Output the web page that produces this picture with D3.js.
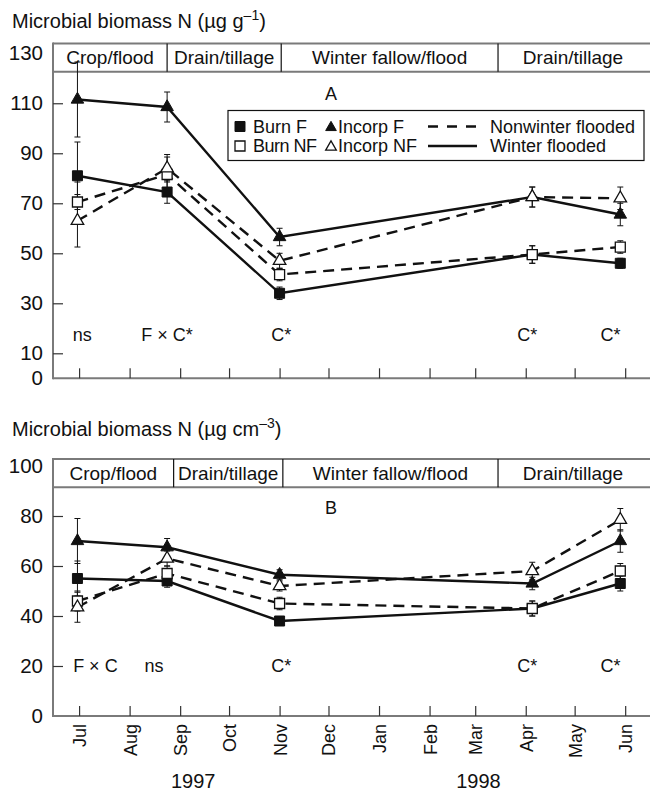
<!DOCTYPE html>
<html>
<head>
<meta charset="utf-8">
<script src="https://cdn.jsdelivr.net/npm/d3@7"></script>
<style>
  html, body { margin: 0; padding: 0; background: #fff; }
  svg { display: block; font-family: "Liberation Sans", Arial, sans-serif; }
</style>
</head>
<body>
<svg id="chart" width="650" height="792"></svg>
<script>
// Sampling dates (same for both panels)
const sampleDates = [
  new Date(1997, 5, 30), new Date(1997, 7, 24), new Date(1997, 10, 1),
  new Date(1998, 3, 5), new Date(1998, 4, 29)
];

// Panel A: microbial biomass N (µg g-1)
const burnF_A     = [81, 74.5, 34, 49.5, 46];
const burnF_A_err = [13.5, 4.5, 2.5, 3.5, 2];
const burnNF_A     = [70.5, 81.5, 41.5, 49.5, 52.5];
const burnNF_A_err = [8, 7, 2.5, 3.5, 2.5];
const incF_A     = [111.5, 108.5, 56.5, 72.5, 65.5];
const incF_A_err = [15, 6, 3.5, 4, 4.5];
const incNF_A     = [63, 84, 47, 72.5, 72];
const incNF_A_err = [10.5, 5.5, 3, 4, 4.5];

// Panel B: microbial biomass N (µg cm-3)
const burnF_B     = [55, 54, 38, 43, 53];
const burnF_B_err = [7, 2.5, 1.5, 3, 3];
const burnNF_B     = [46, 57, 45, 43, 58];
const burnNF_B_err = [4, 3, 2.5, 3, 3];
const incF_B     = [70, 67.5, 56.5, 53, 70];
const incF_B_err = [9, 3.5, 2, 2.5, 4.5];
const incNF_B     = [43.5, 63, 52, 58, 78.5];
const incNF_B_err = [6, 3, 2, 3.5, 4.5];

// Management periods shown in the header band
const periods = ["Crop/flood", "Drain/tillage", "Winter fallow/flood", "Drain/tillage"];
const periodBreaksA = [new Date(1997, 7, 24), new Date(1997, 10, 2), new Date(1998, 2, 15)];
const periodBreaksB = [new Date(1997, 7, 28), new Date(1997, 10, 3), new Date(1998, 2, 15)];

// Significance annotations
const sigA = ["ns", "F \u00d7 C*", "C*", "C*", "C*"];
const sigDatesA = [new Date(1997, 6, 3), new Date(1997, 7, 24), new Date(1997, 10, 2), new Date(1998, 3, 2), new Date(1998, 4, 23)];
const sigB = ["F \u00d7 C", "ns", "C*", "C*", "C*"];
const sigDatesB = [new Date(1997, 6, 11), new Date(1997, 7, 16), new Date(1997, 10, 2), new Date(1998, 3, 2), new Date(1998, 4, 23)];

// Axis ticks
const yLabelsA = [0, 10, 30, 50, 70, 90, 110, 130];
const yLabelsB = [0, 20, 40, 60, 80, 100];
const monthTicks = d3.timeMonth.range(new Date(1997, 6, 1), new Date(1998, 6, 1));
const years = ["1997", "1998"];
const yearDates = [new Date(1997, 8, 9), new Date(1998, 2, 3)];

const svg = d3.select("#chart");
const INK = "#111";
const FRAME = "#7a7a7a";

const x = d3.scaleTime()
  .domain([new Date(1997, 5, 15), new Date(1998, 5, 15)])
  .range([53, 648]);
const xRight = 652;

const series = (F, Ferr, NF, NFerr, iF, iFerr, iNF, iNFerr) => [
  { name: "Burn F",    vals: F,   err: Ferr,   dashed: false, shape: "square",   filled: true },
  { name: "Burn NF",   vals: NF,  err: NFerr,  dashed: true,  shape: "square",   filled: false },
  { name: "Incorp F",  vals: iF,  err: iFerr,  dashed: false, shape: "triangle", filled: true },
  { name: "Incorp NF", vals: iNF, err: iNFerr, dashed: true,  shape: "triangle", filled: false }
];

function marker(sel, s, scale = 1) {
  const size = s.shape === "square" ? 100 : 68;
  const type = s.shape === "square" ? d3.symbolSquare : d3.symbolTriangle;
  sel.attr("d", d3.symbol().type(type).size(size * scale * scale)())
    .attr("fill", s.filled ? INK : "#fff")
    .attr("stroke", INK)
    .attr("stroke-width", s.filled ? 1 : 1.3);
}

function panel(cfg) {
  const y = d3.scaleLinear().domain([0, cfg.yMax]).range([cfg.bottom, cfg.top]);
  const g = svg.append("g");
  const bandBottom = cfg.top + 28.2;

  // title
  const t = g.append("text").attr("x", 12).attr("y", cfg.titleY)
    .attr("font-size", 20).attr("fill", INK);
  t.append("tspan").text(cfg.title[0]);
  t.append("tspan").attr("font-size", 14).attr("dy", -8).text(cfg.title[1]);
  t.append("tspan").attr("dy", 8).text(")");

  // frame
  [cfg.top, bandBottom, cfg.bottom].forEach(yy => {
    g.append("line").attr("x1", 53).attr("x2", xRight).attr("y1", yy).attr("y2", yy)
      .attr("stroke", FRAME).attr("stroke-width", 2);
  });
  g.append("line").attr("x1", 53).attr("x2", 53).attr("y1", cfg.top - 1).attr("y2", cfg.bottom + 1)
    .attr("stroke", FRAME).attr("stroke-width", 2);

  // header band
  const edges = [x.range()[0], ...cfg.breaks.map(d => x(d)), x.range()[1]];
  cfg.breaks.forEach(d => {
    g.append("line").attr("x1", x(d)).attr("x2", x(d))
      .attr("y1", cfg.top).attr("y2", bandBottom)
      .attr("stroke", INK).attr("stroke-width", 1.2);
  });
  periods.forEach((p, i) => {
    g.append("text").attr("x", (edges[i] + edges[i + 1]) / 2)
      .attr("y", (cfg.top + bandBottom) / 2 + 6.8)
      .attr("text-anchor", "middle").attr("font-size", 19).attr("fill", INK).text(p);
  });

  // y axis
  const ya = g.append("g").attr("transform", "translate(53,0)")
    .call(d3.axisLeft(y).tickValues(cfg.yLabels).tickSizeInner(-10).tickSizeOuter(0).tickPadding(10));
  ya.select(".domain").remove();
  ya.selectAll(".tick text").attr("font-size", 20.5).attr("fill", INK)
    .attr("font-family", "Liberation Sans, Arial, sans-serif");
  ya.selectAll(".tick line").attr("stroke", "#333").attr("stroke-width", 1.2)
    .filter(d => d === 0 || d === cfg.yLabels[cfg.yLabels.length - 1]).remove();

  // x axis (inward ticks)
  const xa = g.append("g").attr("transform", `translate(0,${cfg.bottom})`)
    .call(d3.axisBottom(x).tickValues(monthTicks).tickSizeInner(-10).tickSizeOuter(0)
      .tickFormat(cfg.monthLabels ? d3.timeFormat("%b") : ""));
  xa.select(".domain").remove();
  xa.selectAll(".tick line").attr("stroke", "#333").attr("stroke-width", 1.2);
  if (cfg.monthLabels) {
    xa.selectAll(".tick text")
      .attr("font-size", 18).attr("fill", INK)
      .attr("font-family", "Liberation Sans, Arial, sans-serif")
      .attr("transform", "rotate(-90)")
      .attr("text-anchor", "end")
      .attr("x", -8).attr("y", 0).attr("dy", "0.36em");
  }

  // panel letter
  g.append("text").attr("x", 325).attr("y", cfg.letterY).attr("font-size", 18)
    .attr("fill", INK).text(cfg.letter);

  // significance annotations
  cfg.sig.forEach((s, i) => {
    g.append("text").attr("x", x(cfg.sigDates[i])).attr("y", y(cfg.sigV))
      .attr("dy", "0.36em").attr("text-anchor", "middle")
      .attr("font-size", 18).attr("fill", INK).text(s);
  });

  const line = d3.line().x((d, i) => x(sampleDates[i])).y(d => y(d));

  // connecting lines
  cfg.series.forEach(s => {
    g.append("path").attr("d", line(s.vals)).attr("fill", "none")
      .attr("stroke", INK).attr("stroke-width", 2.4)
      .attr("stroke-dasharray", s.dashed ? "11,7" : null);
  });

  // error bars
  cfg.series.forEach(s => {
    s.vals.forEach((v, i) => {
      const cx = x(sampleDates[i]);
      const y1 = y(v + s.err[i]), y2 = y(v - s.err[i]);
      g.append("line").attr("x1", cx).attr("x2", cx).attr("y1", y1).attr("y2", y2)
        .attr("stroke", INK).attr("stroke-width", 1);
      [y1, y2].forEach(yy => g.append("line").attr("x1", cx - 3).attr("x2", cx + 3)
        .attr("y1", yy).attr("y2", yy).attr("stroke", INK).attr("stroke-width", 1));
    });
  });

  // markers
  cfg.series.forEach(s => {
    s.vals.forEach((v, i) => {
      g.append("path").attr("transform", `translate(${x(sampleDates[i])},${y(v)})`).call(marker, s);
    });
  });

  return { g, y };
}

const sA = series(burnF_A, burnF_A_err, burnNF_A, burnNF_A_err, incF_A, incF_A_err, incNF_A, incNF_A_err);
const sB = series(burnF_B, burnF_B_err, burnNF_B, burnNF_B_err, incF_B, incF_B_err, incNF_B, incNF_B_err);

panel({
  title: ["Microbial biomass N (\u00b5g g", "\u20131"], titleY: 28,
  top: 43.5, bottom: 378.3, yMax: 133.9, yLabels: yLabelsA,
  breaks: periodBreaksA, series: sA, monthLabels: false,
  letter: "A", letterY: 99.5, sig: sigA, sigDates: sigDatesA, sigV: 17.7
});

panel({
  title: ["Microbial biomass N (\u00b5g cm", "\u20133"], titleY: 436,
  top: 459, bottom: 716, yMax: 102.8, yLabels: yLabelsB,
  breaks: periodBreaksB, series: sB, monthLabels: true,
  letter: "B", letterY: 513.5, sig: sigB, sigDates: sigDatesB, sigV: 20
});

// legend (panel A)
const lg = svg.append("g");
lg.append("rect").attr("x", 228).attr("y", 110.5).attr("width", 416).attr("height", 50)
  .attr("fill", "#fff").attr("stroke", INK).attr("stroke-width", 1.2);
const rows = [126.5, 146];
const legendItems = [
  { s: sA[0], x: 240, tx: 253, row: 0 }, { s: sA[1], x: 240, tx: 253, row: 1 },
  { s: sA[2], x: 331, tx: 338, row: 0 }, { s: sA[3], x: 331, tx: 338, row: 1 }
];
legendItems.forEach(it => {
  lg.append("path").attr("transform", `translate(${it.x},${rows[it.row] + (it.s.shape === "triangle" ? 1 : 0)})`)
    .call(marker, it.s, it.s.shape === "triangle" ? 0.85 : 1);
  lg.append("text").attr("x", it.tx).attr("y", rows[it.row])
    .attr("dy", "0.36em").attr("font-size", 18).attr("fill", INK)
    .attr("textLength", it.s.name === "Burn NF" ? 64 : null)
    .text(it.s.name);
});
[["Nonwinter flooded", true], ["Winter flooded", false]].forEach(([label, dashed], i) => {
  lg.append("line").attr("x1", 428).attr("x2", 477).attr("y1", rows[i]).attr("y2", rows[i])
    .attr("stroke", INK).attr("stroke-width", 2.4).attr("stroke-dasharray", dashed ? "10,9" : null);
  lg.append("text").attr("x", 490).attr("y", rows[i]).attr("dy", "0.36em")
    .attr("font-size", 18).attr("fill", INK).text(label);
});

// year labels
years.forEach((yr, i) => {
  svg.append("text").attr("x", x(yearDates[i])).attr("y", 788).attr("text-anchor", "middle")
    .attr("font-size", 20).attr("fill", INK).text(yr);
});
</script>
</body>
</html>
